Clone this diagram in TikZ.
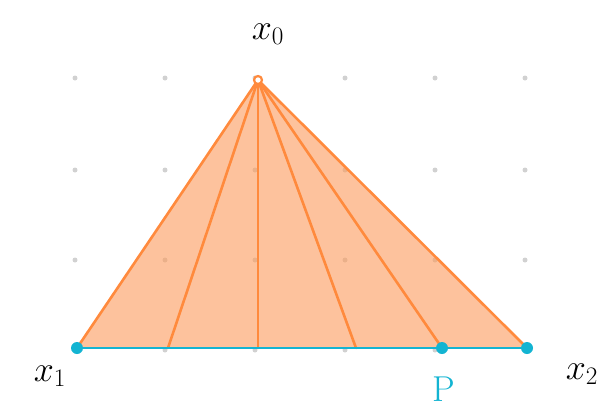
\RequirePackage{fix-cm}
\documentclass[tikz,border=0pt]{standalone}
\begin{document}
\begin{tikzpicture}[x=1pt,y=-1pt,
  griddot/.style={circle,fill=black!18,inner sep=0pt,minimum size=5pt},
  edge/.style={draw=orangeline,line width=2.6pt,line cap=round},
  cyandot/.style={circle,fill=cyanc,inner sep=0pt,minimum size=12pt},
  lbl/.style={font=\fontsize{36}{38}\selectfont,inner sep=1pt}]
\definecolor{orangeline}{HTML}{FF8A3D}
\definecolor{orangefill}{HTML}{FC9A5C}
\definecolor{cyanc}{HTML}{13B4D2}
\useasboundingbox (0,0) rectangle (606,410);
\foreach \i in {75,165,255,345,435,525}
  \foreach \j in {78,170,260,350}
    \node[griddot] at (\i,\j) {};
\coordinate (x0) at (258,80);
\coordinate (x1) at (77,348);
\coordinate (x2) at (527,348);
\coordinate (b1) at (168,348);
\coordinate (b2) at (258,348);
\coordinate (b3) at (356,348);
\coordinate (p) at (442,348);
\fill[orangefill,fill opacity=0.6] (x0) -- (x1) -- (x2) -- cycle;
\draw[edge,line join=round] (x1) -- (x0) -- (x2);
\draw[edge] (x0) -- (b1);
\draw[edge] (x0) -- (b2);
\draw[edge] (x0) -- (b3);
\draw[edge] (x0) -- (p);
\draw[cyanc,line width=2.6pt] (x1) -- (x2);
\node[circle,draw=orangeline,fill=white,line width=2.2pt,inner sep=0pt,minimum size=8pt] (n0) at (x0) {};
\node[cyandot] (n1) at (x1) {};
\node[cyandot] (n2) at (x2) {};
\node[cyandot] (np) at (p) {};
\node[lbl] (l0) at (268,34) {$x_0$};
\node[lbl] (l1) at (50,376) {$x_1$};
\node[lbl] (l2) at (582,374) {$x_2$};
\node[lbl,text=cyanc] (lp) at (444,389) {P};
\end{tikzpicture}
\end{document}
